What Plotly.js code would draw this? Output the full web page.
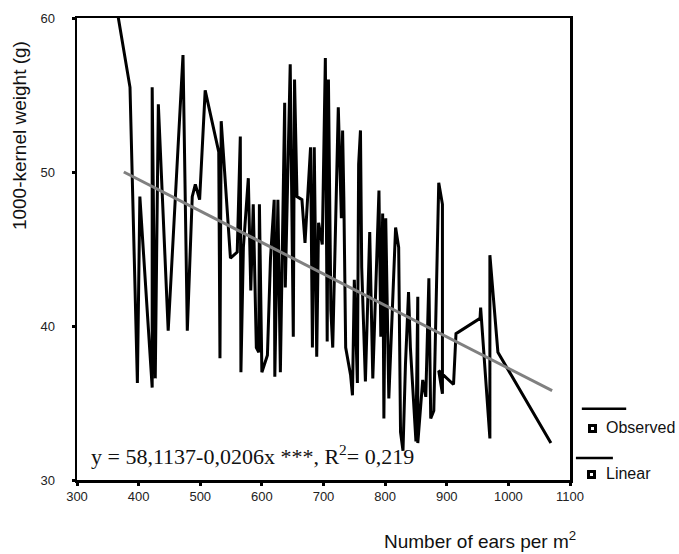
<!DOCTYPE html>
<html>
<head>
<meta charset="utf-8">
<script src="https://cdn.plot.ly/plotly-3.0.1.min.js"></script>
<style>html,body{margin:0;padding:0;background:#fff;}#chart{width:679px;height:554px;}</style>
</head>
<body>
<div id="chart"></div>
<script>
// Observed series (ears per m2, 1000-kernel weight), in plotted order
const earsObserved = [365, 386, 398, 402, 422, 422, 427, 432, 448, 472, 479, 487, 492, 499, 508, 530, 532, 534, 549, 560, 565, 566, 570, 578, 582, 586, 591, 595, 596, 600, 609, 614, 620, 621, 626, 630, 637, 638, 646, 651, 653, 657, 665, 670, 679, 682, 685, 689, 692, 698, 703, 706, 708, 712, 715, 724, 729, 731, 733, 736, 744, 747, 750, 755, 757, 760, 762, 768, 775, 780, 790, 793, 796, 798, 801, 806, 817, 822, 825, 829, 833, 838, 841, 850, 853, 853, 861, 866, 871, 874, 879, 887, 893, 893, 887, 911, 915, 954, 955, 970, 970, 983, 1069];
const weightObserved = [60.5, 55.5, 36.3, 48.4, 36.0, 55.5, 36.6, 54.4, 39.7, 57.6, 39.7, 48.4, 49.2, 48.2, 55.3, 51.3, 37.9, 53.3, 44.4, 44.8, 52.3, 37.0, 45.1, 49.6, 42.3, 47.9, 38.6, 38.3, 47.9, 37.0, 38.1, 44.4, 48.2, 36.7, 48.2, 37.0, 54.5, 42.5, 57.0, 39.3, 56.0, 48.4, 48.2, 45.4, 51.6, 38.6, 51.6, 38.0, 46.7, 45.3, 57.4, 39.0, 56.0, 41.0, 38.6, 54.2, 47.0, 52.7, 48.3, 38.6, 36.8, 35.5, 43.0, 36.3, 50.5, 52.7, 43.8, 36.4, 46.1, 36.6, 48.8, 39.3, 47.3, 34.0, 47.0, 35.3, 46.4, 45.1, 33.1, 31.9, 37.5, 42.2, 38.6, 32.5, 41.9, 32.4, 36.5, 35.4, 43.1, 34.0, 34.5, 49.3, 47.9, 35.6, 37.1, 36.2, 39.5, 40.5, 41.2, 32.7, 44.6, 38.3, 32.4];
// Linear fit endpoints
const earsLinear = [376, 1071];
const weightLinear = [50.0, 35.8];

const xTicks = [300, 400, 500, 600, 700, 800, 900, 1000, 1100];
const yTicks = [30, 40, 50, 60];

const traces = [
  {x: earsObserved, y: weightObserved, type: 'scatter', mode: 'lines',
   line: {color: '#000000', width: 3}, showlegend: false, hoverinfo: 'skip'},
  {x: earsLinear, y: weightLinear, type: 'scatter', mode: 'lines',
   line: {color: '#808080', width: 3}, showlegend: false, hoverinfo: 'skip'}
];

const sans = 'Liberation Sans, Arial, sans-serif';
const axisFont = {family: sans, size: 13, color: '#222'};
const layout = {
  width: 679, height: 554,
  margin: {l: 77, r: 109, t: 18, b: 74},
  paper_bgcolor: '#ffffff', plot_bgcolor: '#ffffff',
  showlegend: false,
  xaxis: {range: [300, 1100], tickvals: xTicks, ticktext: xTicks.map(String),
          showgrid: false, zeroline: false, showline: true, mirror: true,
          linecolor: '#000', linewidth: 2.5, ticks: 'outside', ticklen: 3, tickwidth: 3,
          tickcolor: '#000', tickfont: axisFont},
  yaxis: {range: [30, 60], tickvals: yTicks, ticktext: yTicks.map(String),
          showgrid: false, zeroline: false, showline: true, mirror: true,
          linecolor: '#000', linewidth: 2.5, ticks: 'outside', ticklen: 3, tickwidth: 3,
          tickcolor: '#000', tickfont: axisFont, ticklabelstandoff: 14},
  annotations: [
    {xref: 'paper', yref: 'paper', x: -0.115, y: 0.745, textangle: -90,
     text: '1000-kernel weight (g)', showarrow: false, xanchor: 'center', yanchor: 'middle',
     font: {family: sans, size: 19, color: '#111'}},
    {xref: 'paper', yref: 'paper', x: 0.817, y: -0.13,
     text: 'Number of ears per m<sup>2</sup>', showarrow: false, xanchor: 'center', yanchor: 'middle',
     font: {family: sans, size: 19, color: '#111'}},
    {xref: 'paper', yref: 'paper', x: 0.024, y: 0.054,
     text: 'y = 58,1137-0,0206x ***, R<sup>2</sup>= 0,219', showarrow: false, xanchor: 'left', yanchor: 'middle',
     font: {family: 'Liberation Serif, Times New Roman, serif', size: 22, color: '#111'}},
    {xref: 'paper', yref: 'paper', x: 1.069, y: 0.1126, text: 'Observed', showarrow: false,
     xanchor: 'left', yanchor: 'middle', font: {family: sans, size: 16, color: '#111'}},
    {xref: 'paper', yref: 'paper', x: 1.069, y: 0.013, text: 'Linear', showarrow: false,
     xanchor: 'left', yanchor: 'middle', font: {family: sans, size: 16, color: '#111'}}
  ],
  shapes: [
    {type: 'line', xref: 'paper', yref: 'paper', x0: 1.024, x1: 1.114, y0: 0.154, y1: 0.154,
     line: {color: '#000', width: 2.5}},
    {type: 'rect', xref: 'paper', yref: 'paper', x0: 1.0365, x1: 1.0548, y0: 0.1017, y1: 0.1212,
     fillcolor: '#000', line: {width: 0}},
    {type: 'rect', xref: 'paper', yref: 'paper', x0: 1.0426, x1: 1.0487, y0: 0.1082, y1: 0.1147,
     fillcolor: '#fff', line: {width: 0}},
    {type: 'line', xref: 'paper', yref: 'paper', x0: 1.012, x1: 1.087, y0: 0.0476, y1: 0.0476,
     line: {color: '#000', width: 2.5}},
    {type: 'rect', xref: 'paper', yref: 'paper', x0: 1.0345, x1: 1.0527, y0: 0.0022, y1: 0.0216,
     fillcolor: '#000', line: {width: 0}},
    {type: 'rect', xref: 'paper', yref: 'paper', x0: 1.0406, x1: 1.0467, y0: 0.0087, y1: 0.0152,
     fillcolor: '#fff', line: {width: 0}}
  ]
};

Plotly.newPlot('chart', traces, layout, {displayModeBar: false, staticPlot: true});
</script>
</body>
</html>
